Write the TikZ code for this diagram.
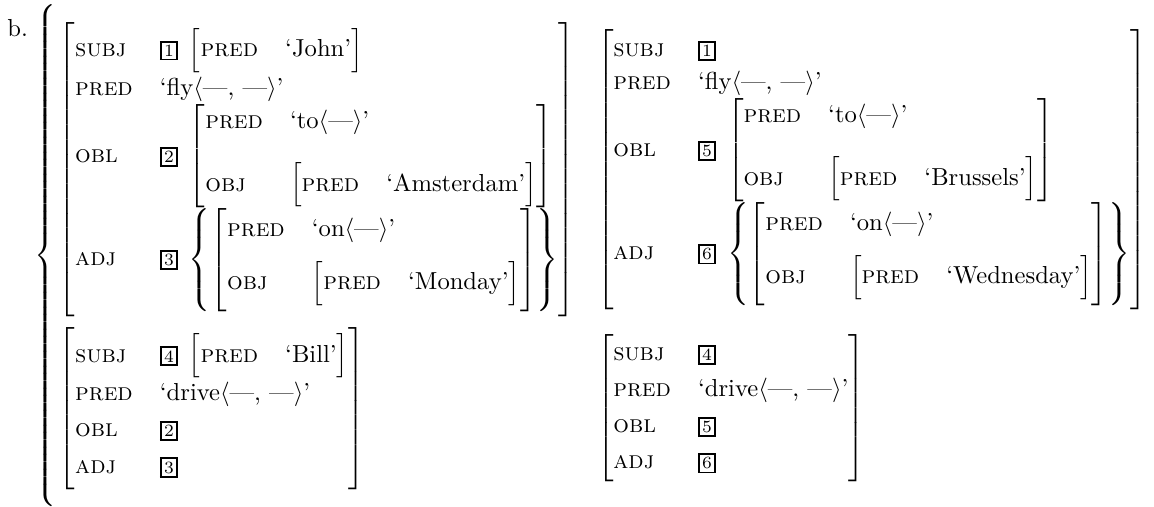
\documentclass[tikz,border=0pt]{standalone}
\usepackage{amsmath}
\usetikzlibrary{positioning,calc}

% attribute-value matrices
\renewcommand{\arraystretch}{1.1}
\delimiterfactor=1000
\delimitershortfall=0pt
\newcommand{\ft}[1]{\text{\textsc{#1}}}
\newcommand{\vl}[1]{\text{#1}}
\newcommand{\args}[1]{$\langle$#1$\rangle$}
\newcommand{\tg}[1]{{\setlength{\fboxsep}{0.9pt}\setlength{\fboxrule}{0.8pt}\fbox{\scriptsize #1}}\;}
\newcommand{\avmat}[1]{\left[\begin{array}{@{}l@{\hspace{11pt}}l@{}}#1\end{array}\right]}
\newcommand{\avset}[1]{\left\{#1\right\}}

\begin{document}
\begin{tikzpicture}[
    every node/.style={inner sep=0pt, outer sep=0pt},
    avm/.style={inner sep=0pt}
]

% John flies to Amsterdam on Monday
\node[avm] (johnAms) at (0,0) {$\avmat{
  \ft{subj} & \tg{1}\avmat{\ft{pred} & \vl{`John'}} \\
  \ft{pred} & \vl{`fly\args{---, ---}'} \\
  \ft{obl}  & \tg{2}\avmat{\ft{pred} & \vl{`to\args{---}'} \\[10pt]
                           \ft{obj}  & \avmat{\ft{pred} & \vl{`Amsterdam'}}} \\[3.5pt]
  \ft{adj}  & \tg{3}\avset{\avmat{\ft{pred} & \vl{`on\args{---}'} \\[6pt]
                                  \ft{obj}  & \avmat{\ft{pred} & \vl{`Monday'}}}}
}$};

% John flies to Brussels on Wednesday
\node[avm, right=9pt of johnAms] (johnBru) {$\avmat{
  \ft{subj} & \tg{1} \\
  \ft{pred} & \vl{`fly\args{---, ---}'} \\
  \ft{obl}  & \tg{5}\avmat{\ft{pred} & \vl{`to\args{---}'} \\[10pt]
                           \ft{obj}  & \avmat{\ft{pred} & \vl{`Brussels'}}} \\[3.5pt]
  \ft{adj}  & \tg{6}\avset{\avmat{\ft{pred} & \vl{`on\args{---}'} \\[6pt]
                                  \ft{obj}  & \avmat{\ft{pred} & \vl{`Wednesday'}}}}
}$};

% Bill drives, sharing 2 and 3
\node[avm, anchor=north west] (billAms) at ([yshift=-4pt]johnAms.south west) {$\avmat{
  \ft{subj} & \tg{4}\avmat{\ft{pred} & \vl{`Bill'}} \\[1.5pt]
  \ft{pred} & \vl{`drive\args{---, ---}'} \\[1.5pt]
  \ft{obl}  & \tg{2} \\[1.5pt]
  \ft{adj}  & \tg{3}
}$};

% Bill drives, sharing 5 and 6
\node[avm, anchor=west] (billBru) at (billAms.west -| johnBru.west) {$\avmat{
  \ft{subj} & \tg{4} \\[1.5pt]
  \ft{pred} & \vl{`drive\args{---, ---}'} \\[1.5pt]
  \ft{obl}  & \tg{5} \\[1.5pt]
  \ft{adj}  & \tg{6}
}$};

% set brace round all four
\path let \p1 = ($(johnAms.north)-(billAms.south)$) in
  node[anchor=east] (setbrace) at ($(johnAms.north west)!0.5!(billAms.south west)$)
  {$\left\{\vrule height \dimexpr\y1/2+4pt\relax depth \dimexpr\y1/2+4pt\relax width 0pt\right.$};

% example label
\node[anchor=north east] (exlabel) at ([xshift=-2.5pt,yshift=-6pt]setbrace.north west) {b.};

% margins
\path ([xshift=-3pt]exlabel.west) ([xshift=3pt]johnBru.east) ([yshift=2pt]setbrace.north) (setbrace.south);

\end{tikzpicture}
\end{document}
